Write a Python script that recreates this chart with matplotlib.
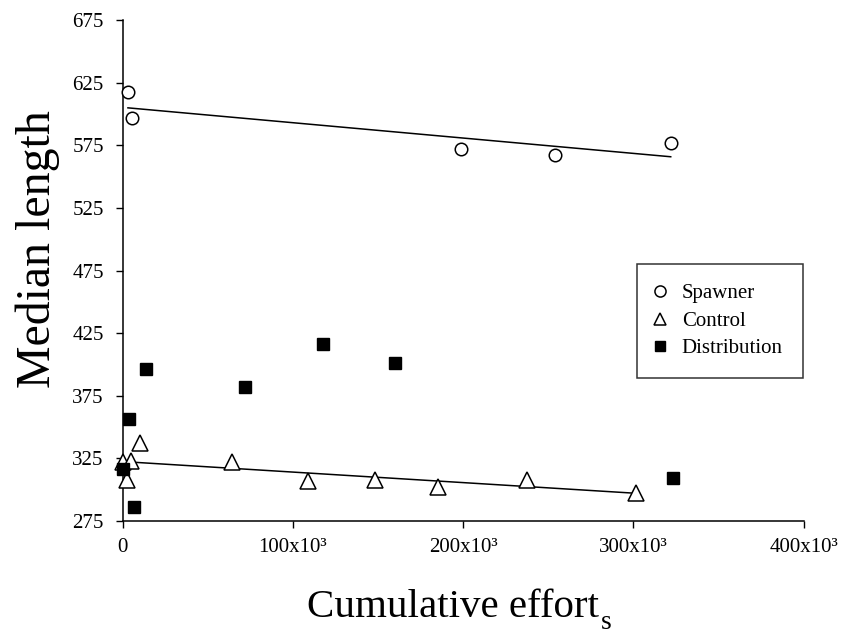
import matplotlib
matplotlib.use("Agg")
import matplotlib.pyplot as plt
import numpy as np

plt.rcParams['font.family'] = ['Liberation Serif', 'DejaVu Serif']

# cumulative effort (x1000) and median length per group
spawner_x = [3.2, 5.6, 198.8, 254.0, 322.0]
spawner_y = [617.5, 596.8, 572.0, 567.2, 576.8]

control_x = [0.0, 4.8, 10.3, 2.5, 64.5, 109.1, 148.3, 185.1, 237.4, 301.6]
control_y = [322.3, 322.9, 337.5, 307.7, 322.3, 307.2, 307.7, 302.4, 307.7, 297.6]

distrib_x = [4.0, 0.5, 6.9, 13.8, 72.0, 117.6, 159.9, 323.2]
distrib_y = [356.2, 316.7, 286.4, 396.4, 381.6, 416.1, 401.4, 309.1]

xticks = [0, 100, 200, 300, 400]
xtick_labels = ['0', '100x10³', '200x10³', '300x10³', '400x10³']
yticks = [275, 325, 375, 425, 475, 525, 575, 625, 675]

fig = plt.figure(figsize=(8.42, 6.37), dpi=100)
ax = fig.add_axes([0.1455, 0.1821, 0.8088, 0.7865])

sx = np.array(spawner_x) * 1000
cx = np.array(control_x) * 1000
dx = np.array(distrib_x) * 1000

# linear fits for spawner and control
for xs, ys in [(sx, spawner_y), (cx, control_y)]:
    b, a = np.polyfit(xs, ys, 1)
    xx = np.array([xs.min(), xs.max()])
    ax.plot(xx, a + b * xx, color='black', lw=1.1, zorder=2)

ax.plot(sx, spawner_y, 'o', ms=9, mfc='white', mec='black', mew=1.1,
        ls='none', label='Spawner', zorder=3, clip_on=False)
ax.plot(cx, control_y, '^', ms=11, mfc='white', mec='black', mew=1.1,
        ls='none', label='Control', zorder=3, clip_on=False)
ax.plot(dx, distrib_y, 's', ms=8.5, mfc='black', mec='black',
        ls='none', label='Distribution', zorder=4, clip_on=False)

ax.set_xlim(0, 400000)
ax.set_ylim(275, 675)
ax.set_xticks([v * 1000 for v in xticks])
ax.set_xticklabels(xtick_labels)
ax.set_yticks(yticks)
ax.tick_params(direction='out', length=5, width=1, labelsize=15)
ax.tick_params(axis='y', pad=8.5)
ax.tick_params(axis='x', pad=7)
for s in ['top', 'right']:
    ax.spines[s].set_visible(False)
for s in ['left', 'bottom']:
    ax.spines[s].set_linewidth(1.1)

ax.set_ylabel('Median length', fontsize=34.5)
ax.yaxis.set_label_coords(-0.092, 0.543)

# x label with a dropped subscript
fig.text(453 / 842, 1 - 617 / 637, 'Cumulative effort', fontsize=29.5,
         ha='center', va='baseline')
fig.text(601 / 842, 1 - 629 / 637, 's', fontsize=20, ha='left', va='baseline')

leg = ax.legend(loc='upper left', bbox_to_anchor=(0.7555, 0.513), fontsize=15,
                frameon=True, fancybox=False, edgecolor='black',
                borderpad=0.95, labelspacing=0.38, handlelength=0.3,
                handletextpad=0.9, borderaxespad=0)
leg.get_frame().set_linewidth(1.1)
for h, ms in zip(leg.legend_handles, [8, 9, 7]):
    h.set_markersize(ms)

fig.savefig('out.png', dpi=100)
